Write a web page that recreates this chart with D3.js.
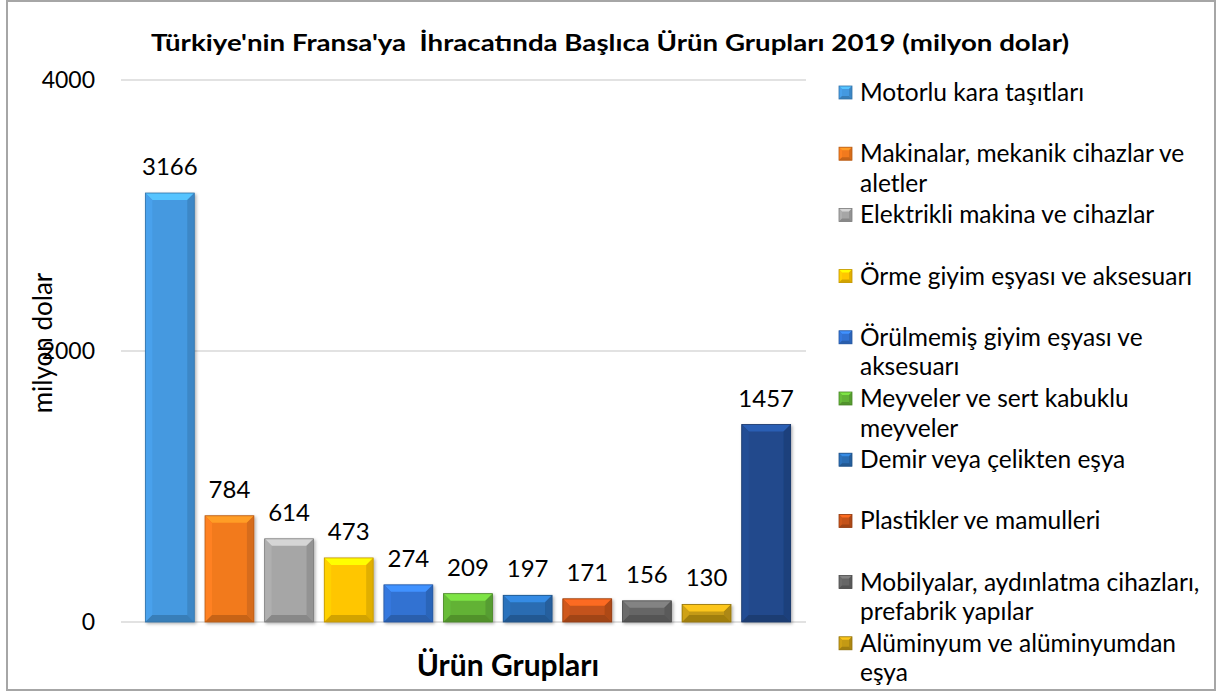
<!DOCTYPE html>
<html>
<head>
<meta charset="utf-8">
<script src="https://cdn.jsdelivr.net/npm/d3@7"></script>
<style>
  body { margin: 0; background: #fff; }
  svg { display: block; }
</style>
</head>
<body>
<svg id="chart" width="1217" height="692"></svg>
<script>
// data
var categories = [
  "Motorlu kara taşıtları",
  "Makinalar, mekanik cihazlar ve aletler",
  "Elektrikli makina ve cihazlar",
  "Örme giyim eşyası ve aksesuarı",
  "Örülmemiş giyim eşyası ve aksesuarı",
  "Meyveler ve sert kabuklu meyveler",
  "Demir veya çelikten eşya",
  "Plastikler ve mamulleri",
  "Mobilyalar, aydınlatma cihazları, prefabrik yapılar",
  "Alüminyum ve alüminyumdan eşya",
  "Diğer"
];
var values = [3166, 784, 614, 473, 274, 209, 197, 171, 156, 130, 1457];
var colors = ["#4499e0", "#f27a1e", "#a6a6a6", "#ffc600", "#3272d2", "#62b236",
              "#2a6cb2", "#c4531a", "#666666", "#c49a14", "#21498c"];
var yTicks = [0, 2000, 4000];
var legendCount = 10; // the rest of the legend is cut off in the original

var svg = d3.select("#chart");

var x = d3.scaleBand().domain(categories).range([140, 796])
  .paddingInner(0.18).paddingOuter(0.09);
var y = d3.scaleLinear().domain([0, 4000]).range([622, 80]);

// border
svg.append("rect")
  .attr("x", 7).attr("y", 1).attr("width", 1208).attr("height", 689)
  .attr("fill", "#fff").attr("stroke", "#a6a6a6").attr("stroke-width", 2);

// title
svg.append("text")
  .attr("x", 610).attr("y", 51)
  .attr("text-anchor", "middle")
  .attr("font-family", "Lato, sans-serif")
  .attr("font-weight", "bold")
  .attr("font-size", 23)
  .attr("textLength", 918)
  .attr("lengthAdjust", "spacingAndGlyphs")
  .attr("fill", "#000")
  .style("white-space", "pre")
  .text("Türkiye'nin Fransa'ya  İhracatında Başlıca Ürün Grupları 2019 (milyon dolar)");

// grid + y ticks
svg.selectAll("line.grid")
  .data(yTicks).enter()
  .append("line")
  .attr("class", "grid")
  .attr("x1", 121).attr("x2", 806)
  .attr("y1", function(d) { return y(d); })
  .attr("y2", function(d) { return y(d); })
  .attr("stroke", "#d9d9d9").attr("stroke-width", 1.3);

svg.selectAll("text.ytick")
  .data(yTicks).enter()
  .append("text")
  .attr("class", "ytick")
  .attr("x", 95)
  .attr("y", function(d) { return y(d) + 8; })
  .attr("text-anchor", "end")
  .attr("font-family", "Lato, sans-serif")
  .attr("font-size", 23)
  .attr("fill", "#000")
  .text(function(d) { return d; });

// y axis title
svg.append("text")
  .attr("transform", "translate(52,343) rotate(-90)")
  .attr("text-anchor", "middle")
  .attr("font-family", "Lato, sans-serif")
  .attr("font-size", 26)
  .attr("fill", "#000")
  .text("milyon dolar");

// x axis title
svg.append("text")
  .attr("x", 508).attr("y", 676)
  .attr("text-anchor", "middle")
  .attr("font-family", "Lato, sans-serif")
  .attr("font-weight", "bold")
  .attr("font-size", 30)
  .attr("fill", "#000")
  .text("Ürün Grupları");

// shadow
var defs = svg.append("defs");
var f = defs.append("filter").attr("id", "shadow")
  .attr("x", "-20%").attr("y", "-20%").attr("width", "140%").attr("height", "140%");
f.append("feDropShadow").attr("dx", 1.5).attr("dy", 1.5)
  .attr("stdDeviation", 1.5).attr("flood-color", "#000").attr("flood-opacity", 0.3);

// draws a bevelled box
function bevelBox(g, x0, y0, w, h, c, b) {
  var base = d3.color(c);
  var x1 = x0 + w, y1 = y0 + h;
  g.append("rect").attr("x", x0).attr("y", y0).attr("width", w).attr("height", h)
    .attr("fill", base.formatHex());
  g.append("polygon")
    .attr("points", [[x0, y0], [x1, y0], [x1 - b, y0 + b], [x0 + b, y0 + b]].join(" "))
    .attr("fill", base.brighter(0.7).formatHex());
  g.append("polygon")
    .attr("points", [[x0, y0], [x0 + b, y0 + b], [x0 + b, y1 - b], [x0, y1]].join(" "))
    .attr("fill", base.brighter(0.15).formatHex());
  g.append("polygon")
    .attr("points", [[x1, y0], [x1 - b, y0 + b], [x1 - b, y1 - b], [x1, y1]].join(" "))
    .attr("fill", base.darker(0.35).formatHex());
  g.append("polygon")
    .attr("points", [[x0, y1], [x0 + b, y1 - b], [x1 - b, y1 - b], [x1, y1]].join(" "))
    .attr("fill", base.darker(0.55).formatHex());
  g.append("rect").attr("x", x0).attr("y", y0).attr("width", w).attr("height", h)
    .attr("fill", "none").attr("stroke", base.darker(0.8).formatHex()).attr("stroke-width", 0.8);
}

// bars
var bars = svg.append("g").attr("class", "bars");
values.forEach(function(v, i) {
  var g = bars.append("g").attr("filter", "url(#shadow)");
  var top = y(v);
  bevelBox(g, x(categories[i]), top, x.bandwidth(), y(0) - top, colors[i], 7);
});

// value labels
svg.selectAll("text.val")
  .data(values).enter()
  .append("text")
  .attr("class", "val")
  .attr("x", function(d, i) { return x(categories[i]) + x.bandwidth() / 2; })
  .attr("y", function(d) { return y(d) - 18; })
  .attr("text-anchor", "middle")
  .attr("font-family", "Lato, sans-serif")
  .attr("font-size", 24)
  .attr("fill", "#000")
  .text(function(d) { return d; });

// legend
var legend = svg.append("g").attr("class", "legend");
var maxW = 345;
categories.slice(0, legendCount).forEach(function(name, i) {
  var ly = 92 + 61.2 * i;
  var g = legend.append("g");
  bevelBox(g, 839, ly - 6, 13, 13, colors[i], 3);
  var t = g.append("text")
    .attr("x", 860).attr("y", ly + 9)
    .attr("font-family", "Lato, sans-serif")
    .attr("font-size", 24.5)
    .attr("fill", "#000");
  // word wrap
  var words = name.split(" "), line = [];
  var tspan = t.append("tspan").attr("x", 860).attr("dy", 0);
  words.forEach(function(w) {
    line.push(w);
    tspan.text(line.join(" "));
    if (tspan.node().getComputedTextLength() > maxW && line.length > 1) {
      line.pop();
      tspan.text(line.join(" "));
      line = [w];
      tspan = t.append("tspan").attr("x", 860).attr("dy", 29.5).text(w);
    }
  });
});
</script>
</body>
</html>
